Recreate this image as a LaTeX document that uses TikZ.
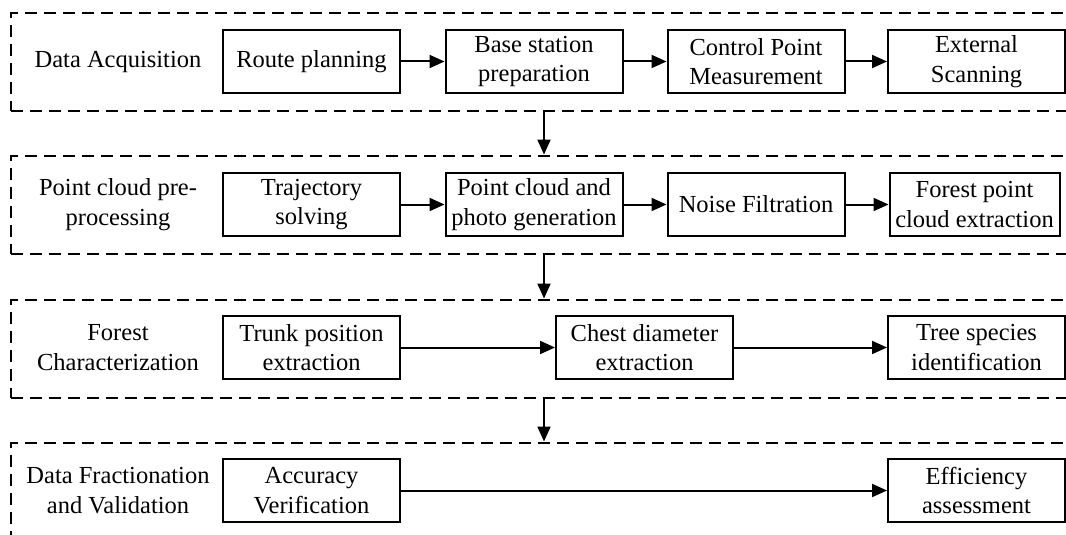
\documentclass[tikz,border=0pt]{standalone}
\usepackage{fontspec}
\setmainfont{Liberation Serif}
\usetikzlibrary{arrows.meta,positioning}

\tikzset{
  band/.style={draw, line width=2pt, dash pattern=on 12pt off 7pt,
    minimum width=1066pt, minimum height=98pt, inner sep=0pt},
  stepbox/.style={draw, line width=2pt, minimum width=177pt, minimum height=63pt,
    inner sep=0pt, align=center},
  stage/.style={align=center, inner sep=0pt},
  flow/.style={-{Triangle[length=15pt,width=13pt]}, line width=2pt},
}

\begin{document}
\begin{tikzpicture}[x=1pt, y=-1pt, font=\fontsize{24.5}{29.5}\selectfont]
  \useasboundingbox (0,0) rectangle (1066,535);
  \clip (0,0) rectangle (1066,535);

  % dashed bands, one per stage
  \node[band] (b1) at (544,62) {};
  \node[band] (b2) at (544,204.5) {};
  \node[band] (b3) at (544,348.5) {};
  \node[band] (b4) at (544,491.5) {};

  % stage titles
  \node[stage] (t1) at (118,62) {Data Acquisition};
  \node[stage] (t2) at (118,204.5) {Point cloud pre-\\processing};
  \node[stage] (t3) at (118,347.5) {Forest\\Characterization};
  \node[stage] (t4) at (118,490.5) {Data Fractionation\\and Validation};

  % stage 1
  \node[stepbox] (a1) at (311.5,61.5) {Route planning};
  \node[stepbox] (a2) at (534,61.5) {Base station\\preparation};
  \node[stepbox] (a3) at (756,61.5) {Control Point\\Measurement};
  \node[stepbox] (a4) at (976.5,61.5) {External\\Scanning};

  % stage 2
  \node[stepbox] (p1) at (311.5,204.5) {Trajectory\\solving};
  \node[stepbox] (p2) at (534,204.5) {Point cloud and\\photo generation};
  \node[stepbox] (p3) at (756,204.5) {Noise Filtration};
  \node[stepbox, minimum width=170pt] (p4) at (974.5,204.5) {Forest point\\cloud extraction};

  % stage 3
  \node[stepbox] (f1) at (311.5,347.5) {Trunk position\\extraction};
  \node[stepbox] (f2) at (644.5,347.5) {Chest diameter\\extraction};
  \node[stepbox] (f3) at (976.5,347.5) {Tree species\\identification};

  % stage 4
  \node[stepbox] (v1) at (311.5,490.5) {Accuracy\\Verification};
  \node[stepbox] (v2) at (976.5,490.5) {Efficiency\\assessment};

  % connectors within stages
  \draw[flow] (a1) -- (a2);
  \draw[flow] (a2) -- (a3);
  \draw[flow] (a3) -- (a4);
  \draw[flow] (p1) -- (p2);
  \draw[flow] (p2) -- (p3);
  \draw[flow] (p3) -- (p4);
  \draw[flow] (f1) -- (f2);
  \draw[flow] (f2) -- (f3);
  \draw[flow] (v1) -- (v2);

  % connectors between stages
  \draw[flow] (b1.south) -- (b2.north);
  \draw[flow] (b2.south) -- (b3.north);
  \draw[flow] (b3.south) -- (b4.north);
\end{tikzpicture}
\end{document}
